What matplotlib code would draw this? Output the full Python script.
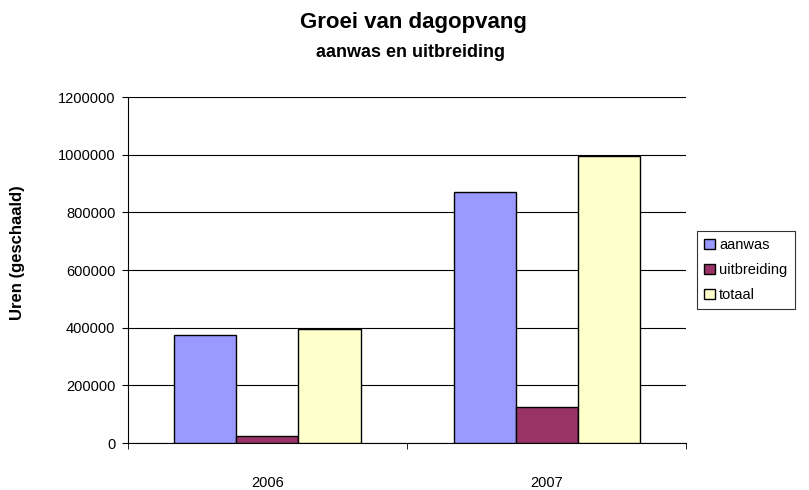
import numpy as np
import matplotlib.pyplot as plt
from matplotlib.ticker import FixedLocator, NullFormatter

plt.rcParams['font.family'] = ['Liberation Sans', 'DejaVu Sans']

years = ['2006', '2007']
aanwas = [376000, 869000]
uitbreiding = [23000, 126000]
totaal = [397000, 994000]

series = [('aanwas', aanwas, '#9999FF'),
          ('uitbreiding', uitbreiding, '#993366'),
          ('totaal', totaal, '#FFFFCC')]

fig = plt.figure(figsize=(8.09, 4.90), dpi=100)
ax = fig.add_axes([0.1582, 0.0959, 0.6898, 0.7061])

x = np.arange(len(years))
w = 1 / 4.5
for i, (name, vals, col) in enumerate(series):
    ax.bar(x + (i - 1) * w, vals, width=w, color=col, edgecolor='black',
           linewidth=1.0, label=name, zorder=3)

ax.set_xlim(-0.5, len(years) - 0.5)
ax.set_ylim(0, 1200000)
ax.set_yticks(np.arange(0, 1200001, 200000))
ax.set_yticklabels([str(v) for v in range(0, 1200001, 200000)], fontsize=10.5)
ax.yaxis.grid(True, color='black', linewidth=0.8, zorder=0)

ax.set_xticks(x)
ax.set_xticklabels(years, fontsize=10.5)
ax.tick_params(axis='x', length=0, pad=24)
ax.xaxis.set_minor_locator(FixedLocator([-0.5, 0.5, 1.5]))
ax.xaxis.set_minor_formatter(NullFormatter())
ax.tick_params(axis='x', which='minor', length=4, direction='out')
ax.tick_params(axis='y', length=4, direction='out', pad=5)

for s in ['top', 'right']:
    ax.spines[s].set_visible(False)
ax.spines['left'].set_color('black')
ax.spines['bottom'].set_color('black')

ax.set_ylabel('Uren (geschaald)', fontsize=12, fontweight='bold')
ax.yaxis.set_label_coords(-0.184, 0.549)

fig.text(0.511, 0.955, 'Groei van dagopvang', ha='center', va='center',
         fontsize=16, fontweight='bold')
fig.text(0.507, 0.893, 'aanwas en uitbreiding', ha='center', va='center',
         fontsize=13, fontweight='bold')

leg = ax.legend(loc='center left', bbox_to_anchor=(1.02, 0.5), fontsize=10.5,
                frameon=True, fancybox=False, edgecolor='black',
                handlelength=0.7, handleheight=0.7, handletextpad=0.3,
                borderpad=0.5, labelspacing=0.75, borderaxespad=0)
leg.get_frame().set_linewidth(0.8)

fig.savefig('out.png', dpi=100)
